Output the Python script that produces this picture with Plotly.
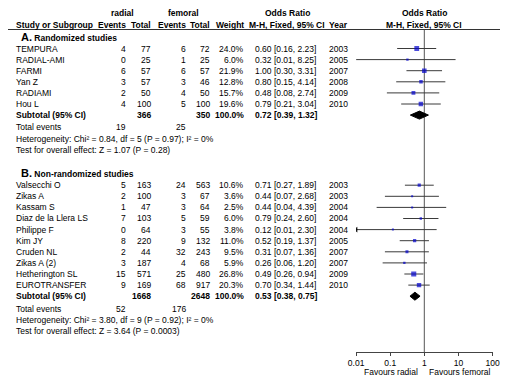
import plotly.graph_objects as go

# ---------------- data ----------------
names_a = ["TEMPURA", "RADIAL-AMI", "FARMI", "Yan Z", "RADIAMI", "Hou L"]
rad_ev_a = [4, 0, 6, 3, 2, 4]
rad_tot_a = [77, 25, 57, 57, 50, 100]
fem_ev_a = [6, 1, 6, 3, 4, 5]
fem_tot_a = [72, 25, 57, 46, 50, 100]
weight_a = [24.0, 6.0, 21.9, 12.8, 15.7, 19.6]
or_a = [0.60, 0.32, 1.00, 0.80, 0.48, 0.79]
lo_a = [0.16, 0.01, 0.30, 0.15, 0.08, 0.21]
hi_a = [2.23, 8.25, 3.31, 4.14, 2.74, 3.04]
year_a = [2003, 2005, 2007, 2008, 2009, 2010]
sub_a = dict(rad_tot=366, fem_tot=350, or_=0.72, lo=0.39, hi=1.32, rad_ev=19, fem_ev=25,
             het="Heterogeneity: Chi² = 0.84, df = 5 (P = 0.97); I² = 0%",
             test="Test for overall effect: Z = 1.07 (P = 0.28)")

names_b = ["Valsecchi O", "Zikas A", "Kassam S", "Diaz de la Llera LS", "Philippe F",
           "Kim JY", "Cruden NL", "Zikas A (2)", "Hetherington SL", "EUROTRANSFER"]
rad_ev_b = [5, 2, 1, 7, 0, 8, 2, 3, 15, 9]
rad_tot_b = [163, 100, 47, 103, 64, 220, 44, 187, 571, 169]
fem_ev_b = [24, 3, 3, 5, 3, 9, 32, 4, 25, 68]
fem_tot_b = [563, 67, 64, 59, 55, 132, 243, 68, 480, 917]
weight_b = [10.6, 3.6, 2.5, 6.0, 3.8, 11.0, 9.5, 5.9, 26.8, 20.3]
or_b = [0.71, 0.44, 0.44, 0.79, 0.12, 0.52, 0.31, 0.26, 0.49, 0.70]
lo_b = [0.27, 0.07, 0.04, 0.24, 0.01, 0.19, 0.07, 0.06, 0.26, 0.34]
hi_b = [1.89, 2.68, 4.39, 2.60, 2.30, 1.37, 1.36, 1.20, 0.94, 1.44]
year_b = [2003, 2003, 2004, 2004, 2004, 2005, 2007, 2007, 2009, 2010]
sub_b = dict(rad_tot=1668, fem_tot=2648, or_=0.53, lo=0.38, hi=0.75, rad_ev=52, fem_ev=176,
             het="Heterogeneity: Chi² = 3.80, df = 9 (P = 0.92); I² = 0%",
             test="Test for overall effect: Z = 3.64 (P = 0.0003)")

clipped_left = ["Philippe F"]   # CI extends beyond the axis on the left
tick_vals = [0.01, 0.1, 1, 10, 100]
tick_text = ["0.01", "0.1", "1", "10", "100"]

# ---------------- layout constants (pixels) ----------------
W, H = 507, 380
FONT = "Liberation Sans, Arial, sans-serif"
FS = 8.5
STEP = 11.1
AX_Y = 352            # pixel y of the forest x-axis
X_LEFT, X_RIGHT = 358.7, 499.3   # pixel extent of log axis 0.01..100

COL_NAME, COL_REV, COL_RTOT, COL_FEV, COL_FTOT, COL_W, COL_OR, COL_YEAR = 7, 123, 148, 184, 209, 244, 254, 330

annotations = []


def txt(x, y, s, anchor="left", bold=False, size=FS):
    if bold:
        s = f"<b>{s}</b>"
    annotations.append(dict(x=x / W, y=1 - y / H, xref="paper", yref="paper", text=s,
                            showarrow=False, xanchor=anchor, yanchor="middle", borderpad=0,
                            font=dict(family=FONT, size=size, color="black")))


fig = go.Figure()

# headers
txt(118, 13, "radial", "center", True)
txt(181, 13, "femoral", "center", True)
txt(288, 13, "Odds Ratio", "center", True)
txt(428.7, 13, "Odds Ratio", "center", True)
txt(COL_NAME, 25, "Study or Subgroup", "left", True)
txt(COL_REV, 25, "Events", "right", True)
txt(COL_RTOT, 25, "Total", "right", True)
txt(COL_FEV, 25, "Events", "right", True)
txt(COL_FTOT, 25, "Total", "right", True)
txt(COL_W, 25, "Weight", "right", True)
txt(288, 25, "M-H, Fixed, 95% CI", "center", True)
txt(COL_YEAR, 25, "Year", "left", True)
txt(428.7, 25, "M-H, Fixed, 95% CI", "center", True)

ci_x, ci_y = [], []
sq_x, sq_y, sq_s = [], [], []
arrow_x, arrow_y = [], []
dia_traces = []


def section(label_letter, label, sec_y, start_y, names, rev, rtot, fev, ftot, wts, ors, los, his, yrs, sub):
    txt(12, sec_y, f"<span style='font-size:11px'>{label_letter}</span> {label}", "left", True)
    for i, n in enumerate(names):
        y = start_y + i * STEP
        txt(COL_NAME, y, n)
        txt(COL_REV, y, str(rev[i]), "right")
        txt(COL_RTOT, y, str(rtot[i]), "right")
        txt(COL_FEV, y, str(fev[i]), "right")
        txt(COL_FTOT, y, str(ftot[i]), "right")
        txt(COL_W, y, f"{wts[i]:.1f}%", "right")
        txt(COL_OR, y, f"{ors[i]:.2f} [{los[i]:.2f}, {his[i]:.2f}]")
        txt(COL_YEAR, y, str(yrs[i]))
        ci_x.extend([los[i], his[i], None])
        ci_y.extend([y, y, None])
        sq_x.append(ors[i])
        sq_y.append(y)
        sq_s.append(max(2.0, 0.98 * wts[i] ** 0.5))
        if n in clipped_left:
            arrow_x.append(los[i])
            arrow_y.append(y)
    ys = start_y + len(names) * STEP
    txt(COL_NAME, ys, "Subtotal (95% CI)", "left", True)
    txt(COL_RTOT, ys, str(sub["rad_tot"]), "right", True)
    txt(COL_FTOT, ys, str(sub["fem_tot"]), "right", True)
    txt(COL_W, ys, "100.0%", "right", True)
    txt(COL_OR, ys, f"{sub['or_']:.2f} [{sub['lo']:.2f}, {sub['hi']:.2f}]", "left", True)
    dia_traces.append(([sub["lo"], sub["or_"], sub["hi"], sub["or_"], sub["lo"]],
                       [ys, ys - 4, ys, ys + 4, ys]))
    yt = ys + 12.3
    txt(COL_NAME, yt, "Total events")
    txt(COL_REV, yt, str(sub["rad_ev"]), "right")
    txt(COL_FEV, yt, str(sub["fem_ev"]), "right")
    txt(COL_NAME, yt + 11.3, sub["het"])
    txt(COL_NAME, yt + 22.4, sub["test"])


section("A.", "Randomized studies", 36.7, 48.5, names_a, rad_ev_a, rad_tot_a, fem_ev_a, fem_tot_a,
        weight_a, or_a, lo_a, hi_a, year_a, sub_a)
section("B.", "Non-randomized studies", 172.5, 185.2, names_b, rad_ev_b, rad_tot_b, fem_ev_b, fem_tot_b,
        weight_b, or_b, lo_b, hi_b, year_b, sub_b)

# no-effect line
fig.add_trace(go.Scatter(x=[1, 1], y=[29.5, AX_Y], mode="lines",
                         line=dict(color="#555555", width=1), hoverinfo="skip"))
# CI lines
fig.add_trace(go.Scatter(x=ci_x, y=ci_y, mode="lines", line=dict(color="#3a3a3a", width=1),
                         hoverinfo="skip"))
# arrows for clipped CIs
fig.add_trace(go.Scatter(x=arrow_x, y=arrow_y, mode="markers",
                         marker=dict(symbol="triangle-left", size=5, color="black"), hoverinfo="skip"))
# study squares
fig.add_trace(go.Scatter(x=sq_x, y=sq_y, mode="markers",
                         marker=dict(symbol="square", size=sq_s, color="#0000CC", line=dict(width=0)),
                         hoverinfo="skip"))
# subtotal diamonds
for dx, dy in dia_traces:
    fig.add_trace(go.Scatter(x=dx, y=dy, mode="lines", fill="toself", fillcolor="black",
                             line=dict(color="black", width=1), hoverinfo="skip"))

# favours labels
txt(424, 371.5, "Favours radial", "right")
txt(433, 371.5, "Favours femoral", "left")

fig.update_layout(
    width=W, height=H, margin=dict(l=0, r=0, t=0, b=0),
    paper_bgcolor="white", plot_bgcolor="rgba(0,0,0,0)", showlegend=False,
    annotations=annotations,
    shapes=[dict(type="line", xref="paper", yref="paper", x0=0, x1=1,
                 y0=1 - 29.5 / H, y1=1 - 29.5 / H, line=dict(color="#333333", width=1))],
    xaxis=dict(type="log", range=[-2, 2], domain=[X_LEFT / W, X_RIGHT / W],
               showgrid=False, zeroline=False, showline=True, linecolor="#444444", linewidth=1,
               ticks="outside", ticklen=3, tickcolor="#444444", tickvals=tick_vals, ticktext=tick_text,
               tickfont=dict(family=FONT, size=FS, color="black"), fixedrange=True),
    yaxis=dict(range=[AX_Y, 0], domain=[(H - AX_Y) / H, 1], visible=False, fixedrange=True),
)

fig.write_html("out.html", config={"displayModeBar": False})

# remove the default page margin so the figure sits at the window's top-left corner
with open("out.html", "r", encoding="utf-8") as f:
    html = f.read()
html = html.replace("<head>", "<head><style>html,body{margin:0;padding:0;overflow:hidden;}</style>", 1)
with open("out.html", "w", encoding="utf-8") as f:
    f.write(html)
